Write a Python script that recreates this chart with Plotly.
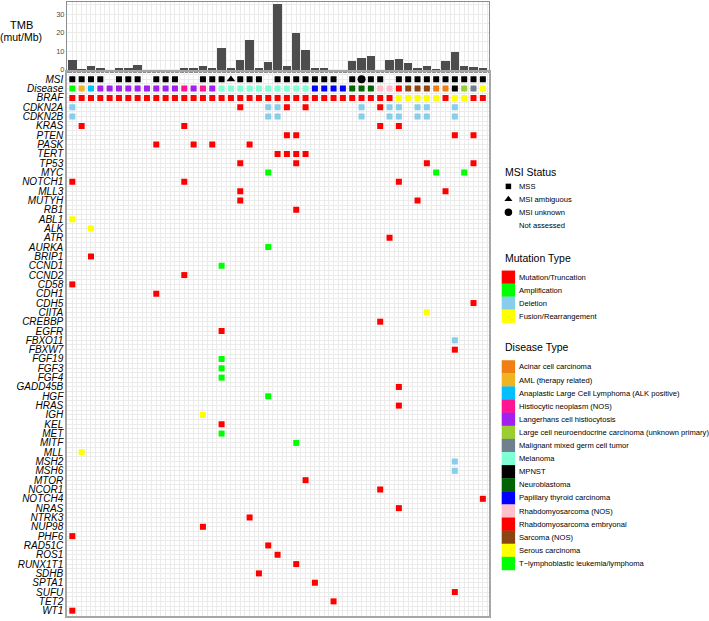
import plotly.graph_objects as go

W, H = 709, 621
FONT = "Liberation Sans, Arial, Helvetica, sans-serif"

# ---------------- data ----------------
samples = list(range(45))

tmb = [5.2, 0.3, 1.8, 1.0, None, 1.0, 1.0, 2.7, None, None,
       None, None, 0.6, 0.9, 1.8, 0.9, 11.7, 1.1, 5.4, 15.8,
       0.4, 4.2, 35.5, 2.0, 19.6, 10.8, 0.4, 0.4, None, None,
       4.6, 6.4, 7.4, None, 5.4, 5.9, 3.6, 0.4, 1.8, 0.3,
       4.7, 9.3, 2.2, 1.2, 0.5]

msi = ["MSS", "MSS", "MSS", "MSS", "Not assessed", "MSS", "MSS", "MSS", "Not assessed", "MSS",
       "MSS", "MSS", "Not assessed", "Not assessed", "MSS", "MSS", "MSS", "MSI ambiguous", "MSS", "MSS",
       "MSS", "Not assessed", "MSS", "MSS", "MSS", "MSS", "MSS", "MSS", "MSS", "Not assessed",
       "MSS", "MSI unknown", "MSS", "MSS", "Not assessed", "MSS", "MSS", "MSS", "MSS", "MSS",
       "MSS", "MSS", "MSS", "MSS", "MSS"]

LCH = "Langerhans cell histiocytosis"
HIS = "Histiocytic neoplasm (NOS)"
MEL = "Melanoma"
PTC = "Papillary thyroid carcinoma"
NB = "Neuroblastoma"
RMS = "Rhabdomyosarcoma (NOS)"
SAR = "Sarcoma (NOS)"
ACC = "Acinar cell carcinoma"
disease = ["T\u2212lymphoblastic leukemia/lymphoma", "AML (therapy related)",
           "Anaplastic Large Cell Lymphoma (ALK positive)",
           LCH, LCH, LCH, LCH, LCH, LCH, LCH, LCH, LCH, HIS, LCH, HIS, LCH,
           MEL, MEL, MEL, MEL, MEL, MEL, MEL, MEL, MEL, MEL,
           PTC, PTC, PTC, PTC, NB, NB, NB, RMS, RMS,
           "Rhabdomyosarcoma embryonal", SAR, SAR, SAR, ACC, ACC, "MPNST",
           "Large cell neuroendocrine carcinoma (unknown primary)",
           "Malignant mixed germ cell tumor", "Serous carcinoma"]

genes = ["BRAF", "CDKN2A", "CDKN2B", "KRAS", "PTEN", "PASK", "TERT", "TP53", "MYC", "NOTCH1",
         "MLL3", "MUTYH", "RB1", "ABL1", "ALK", "ATR", "AURKA", "BRIP1", "CCND1", "CCND2",
         "CD58", "CDH1", "CDH5", "CIITA", "CREBBP", "EGFR", "FBXO11", "FBXW7", "FGF19", "FGF3",
         "FGF4", "GADD45B", "HGF", "HRAS", "IGH", "KEL", "MET", "MITF", "MLL", "MSH2",
         "MSH6", "MTOR", "NCOR1", "NOTCH4", "NRAS", "NTRK3", "NUP98", "PHF6", "RAD51C", "ROS1",
         "RUNX1T1", "SDHB", "SPTA1", "SUFU", "TET2", "WT1"]

# sample indices altered, per gene, per alteration type
truncation = {
    "BRAF": [0, 1, 2, 3, 4, 5, 6, 7, 8, 9, 10, 11, 12, 13, 14, 15, 16, 17, 18, 19,
             20, 21, 22, 23, 24, 25, 26, 27, 28, 29, 30, 31, 32, 33, 34, 40, 43, 44],
    "CDKN2A": [18, 23, 25, 33], "KRAS": [1, 12, 33, 35], "PTEN": [23, 24, 41, 43],
    "PASK": [9, 13, 15, 19], "TERT": [22, 23, 24, 25], "TP53": [18, 24, 38, 43],
    "NOTCH1": [0, 12, 35], "MLL3": [18, 40], "MUTYH": [18, 37], "RB1": [24], "ATR": [34],
    "BRIP1": [2], "CCND2": [12], "CD58": [0], "CDH1": [9], "CDH5": [43], "CREBBP": [33],
    "EGFR": [16], "FBXW7": [41], "GADD45B": [35], "HRAS": [35], "KEL": [16], "MTOR": [25],
    "NCOR1": [33], "NOTCH4": [44], "NRAS": [35], "NTRK3": [19], "NUP98": [14], "PHF6": [0],
    "RAD51C": [21], "ROS1": [22], "RUNX1T1": [24], "SDHB": [20], "SPTA1": [26], "SUFU": [41],
    "TET2": [28], "WT1": [0],
}
amplification = {
    "MYC": [21, 39, 42], "AURKA": [21], "CCND1": [16], "FGF19": [16], "FGF3": [16],
    "FGF4": [16], "HGF": [21], "MET": [16], "MITF": [24],
}
deletion = {
    "CDKN2A": [0, 21, 22, 31, 34, 35, 37, 38, 41],
    "CDKN2B": [0, 21, 22, 31, 34, 35, 37, 38, 41],
    "FBXO11": [41], "MSH2": [41], "MSH6": [41],
}
fusion = {
    "BRAF": [35, 36, 37, 38, 39, 41, 42], "ABL1": [0], "ALK": [2], "CIITA": [38],
    "IGH": [14], "MLL": [1],
}

msi_levels = ["MSS", "MSI ambiguous", "MSI unknown", "Not assessed"]
mut_levels = ["Mutation/Truncation", "Amplification", "Deletion", "Fusion/Rearrangement"]
disease_levels = ["Acinar cell carcinoma", "AML (therapy related)",
                  "Anaplastic Large Cell Lymphoma (ALK positive)", "Histiocytic neoplasm (NOS)",
                  "Langerhans cell histiocytosis",
                  "Large cell neuroendocrine carcinoma (unknown primary)",
                  "Malignant mixed germ cell tumor", "Melanoma", "MPNST", "Neuroblastoma",
                  "Papillary thyroid carcinoma", "Rhabdomyosarcoma (NOS)",
                  "Rhabdomyosarcoma embryonal", "Sarcoma (NOS)", "Serous carcinoma",
                  "T\u2212lymphoblastic leukemia/lymphoma"]

# ---------------- styles ----------------
mut_colors = ["#FF0000", "#00FF00", "#87CEEB", "#FFFF00"]
disease_colors = ["#F07F14", "#EEB422", "#00BFFF", "#FF1493", "#A020F0", "#9ACD32", "#708090",
                  "#7FFFD4", "#000000", "#006400", "#0000FF", "#FFC0CB", "#FF0000", "#8B4513",
                  "#FFFF00", "#00FF00"]
dcol = dict(zip(disease_levels, disease_colors))
msi_symbols = {"MSS": ("square", 6), "MSI ambiguous": ("triangle-up", 7.5),
               "MSI unknown": ("circle", 8)}

rows = ["MSI", "Disease"] + genes
row_idx = {r: i for i, r in enumerate(rows)}

fig = go.Figure()

# TMB bars
fig.add_trace(go.Bar(x=samples, y=tmb, width=0.9, xaxis="x", yaxis="y",
                     marker=dict(color="#4D4D4D", line=dict(width=0)),
                     showlegend=False, hoverinfo="x+y"))

# MSI row
for status in msi_levels[:3]:
    sym, sz = msi_symbols[status]
    xs = [s for s, m in zip(samples, msi) if m == status]
    fig.add_trace(go.Scatter(x=xs, y=[row_idx["MSI"]] * len(xs), mode="markers",
                             marker=dict(symbol=sym, size=sz, color="black", line=dict(width=0)),
                             xaxis="x2", yaxis="y2", showlegend=False))

# Disease row
fig.add_trace(go.Scatter(x=samples, y=[row_idx["Disease"]] * len(samples), mode="markers",
                         marker=dict(symbol="square", size=6, color=[dcol[d] for d in disease],
                                     line=dict(width=0)),
                         xaxis="x2", yaxis="y2", showlegend=False))

# alterations
for mtype, table, color in zip(mut_levels, [truncation, amplification, deletion, fusion], mut_colors):
    xs, ys = [], []
    for gene, ss in table.items():
        for s in ss:
            xs.append(s)
            ys.append(row_idx[gene])
    fig.add_trace(go.Scatter(x=xs, y=ys, mode="markers", name=mtype,
                             marker=dict(symbol="square", size=6, color=color, line=dict(width=0)),
                             xaxis="x2", yaxis="y2", showlegend=False))

# ---------------- legends (drawn in a pixel-unit helper axis) ----------------
LX0 = 495
SW_X = 508.4
TXT_X = 516.5
annotations = []

def add_title(text, y):
    annotations.append(dict(x=502.5, y=y, xref="x3", yref="y3", text=text, showarrow=False,
                             xanchor="left", yanchor="middle",
                             font=dict(family=FONT, size=10.5, color="black")))

def add_items(labels, y0, step):
    ys = [y0 + step * i for i in range(len(labels))]
    for lab, y in zip(labels, ys):
        annotations.append(dict(x=TXT_X, y=y, xref="x3", yref="y3", text=lab, showarrow=False,
                                xanchor="left", yanchor="middle",
                                font=dict(family=FONT, size=7.6, color="black")))
    return ys

add_title("MSI Status", 173.3)
ys = add_items(msi_levels, 187.3, 13.0)
for status, y in zip(msi_levels[:3], ys):
    sym, sz = msi_symbols[status]
    fig.add_trace(go.Scatter(x=[SW_X], y=[y], mode="markers",
                             marker=dict(symbol=sym, size=sz - 0.5, color="black", line=dict(width=0)),
                             xaxis="x3", yaxis="y3", showlegend=False, hoverinfo="skip"))

add_title("Mutation Type", 259.0)
ys = add_items(mut_levels, 278.6, 13.05)
fig.add_trace(go.Scatter(x=[SW_X] * len(ys), y=ys, mode="markers",
                         marker=dict(symbol="square", size=13.4, color=mut_colors, line=dict(width=0)),
                         xaxis="x3", yaxis="y3", showlegend=False, hoverinfo="skip"))

add_title("Disease Type", 348.3)
ys = add_items(disease_levels, 368.7, 13.17)
fig.add_trace(go.Scatter(x=[SW_X] * len(ys), y=ys, mode="markers",
                         marker=dict(symbol="square", size=13.4, color=disease_colors, line=dict(width=0)),
                         xaxis="x3", yaxis="y3", showlegend=False, hoverinfo="skip"))

# TMB axis title
annotations.append(dict(x=21 / W, y=1 - 24.7 / H, xref="paper", yref="paper", text="TMB",
                        showarrow=False, xanchor="center", yanchor="middle",
                        font=dict(family=FONT, size=11, color="black")))
annotations.append(dict(x=21 / W, y=1 - 37.5 / H, xref="paper", yref="paper", text="(mut/Mb)",
                        showarrow=False, xanchor="center", yanchor="middle",
                        font=dict(family=FONT, size=10.5, color="black")))

GRID = "#EBEBEB"
XR = [-0.57, 44.66]
xdom = [67 / W, 489 / W]

common_x = dict(range=XR, domain=xdom, showticklabels=False, ticks="", zeroline=False,
                showgrid=True, gridcolor=GRID, gridwidth=1, dtick=1, tick0=0,
                minor=dict(showgrid=True, gridcolor=GRID, gridwidth=0.6, dtick=1, tick0=0.5),
                showline=True, mirror=True, fixedrange=True)

fig.update_layout(
    width=W, height=H,
    margin=dict(l=0, r=0, t=0, b=0),
    paper_bgcolor="white", plot_bgcolor="white",
    font=dict(family=FONT, color="black"),
    showlegend=False,
    bargap=0,
    hovermode=False,
    xaxis=dict(**common_x, anchor="y", linecolor="#8C8C8C", linewidth=1),
    yaxis=dict(domain=[1 - 72 / H, 1 - 2 / H], range=[-1.08, 36.6], anchor="x",
               tickvals=[0, 10, 20, 30], ticktext=["0", "10", "20", "30"], ticks="",
               tickfont=dict(family=FONT, size=7.5, color="#4D4D4D"),
               showgrid=True, gridcolor=GRID, gridwidth=1, zeroline=False,
               minor=dict(showgrid=True, gridcolor=GRID, gridwidth=0.6, tickvals=[5, 15, 25, 35]),
               showline=True, mirror=True, linecolor="#8C8C8C", linewidth=1, fixedrange=True),
    xaxis2=dict(**common_x, anchor="y2", linecolor="#A6A6A6", linewidth=1.5),
    yaxis2=dict(domain=[1 - 619 / H, 1 - 72 / H], range=[57.57, -0.82], anchor="x2",
                tickvals=list(range(len(rows))), ticktext=[f"<i>{r}</i>" for r in rows],
                ticks="", tickfont=dict(family=FONT, size=10, color="black"),
                showgrid=True, gridcolor=GRID, gridwidth=1, zeroline=False,
                minor=dict(showgrid=True, gridcolor=GRID, gridwidth=0.6, dtick=1, tick0=0.5),
                showline=True, mirror=True, linecolor="#A6A6A6", linewidth=1.5, fixedrange=True),
    xaxis3=dict(domain=[LX0 / W, 1], range=[LX0, W], visible=False, anchor="y3", fixedrange=True),
    yaxis3=dict(domain=[0, 1], range=[H, 0], visible=False, anchor="x3", fixedrange=True),
    annotations=annotations,
)

# remove the browser's default 8px body margin so the figure sits at the page origin
fig.write_html("out.html", config={"displayModeBar": False},
               post_script="document.body.style.margin='0';document.body.style.overflow='hidden';")
